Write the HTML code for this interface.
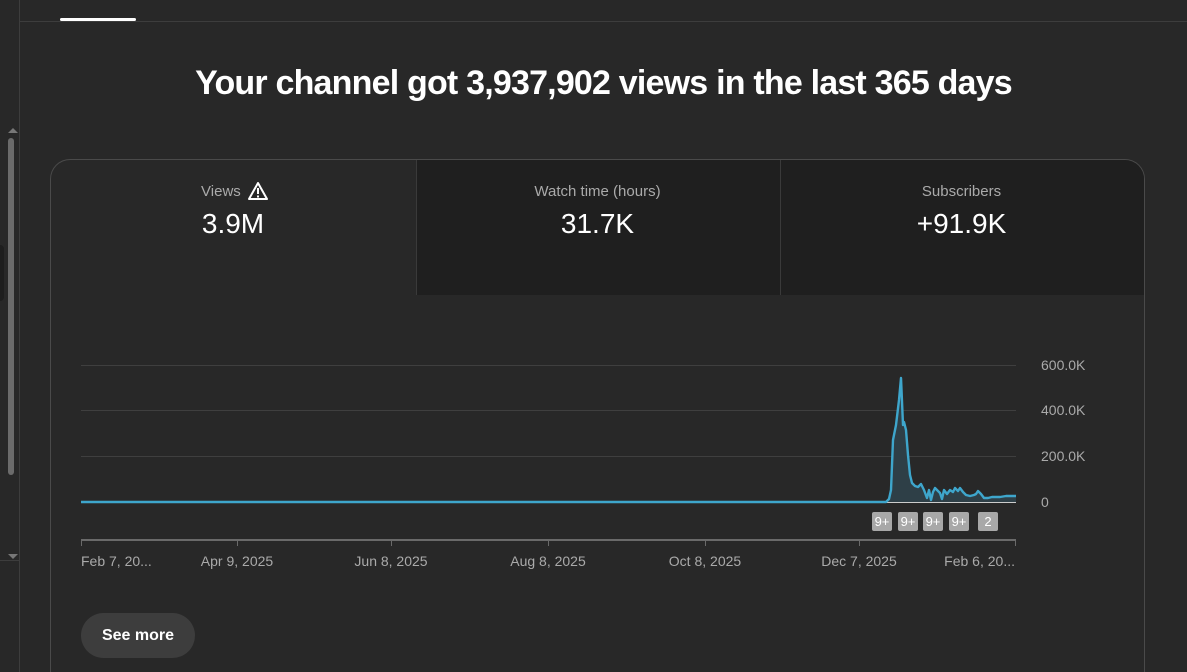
<!DOCTYPE html>
<html style="width:1187px;height:672px;overflow:hidden"><head><style>
body{margin:0;width:1187px;height:672px;background:#282828;overflow:hidden;font-family:"Liberation Sans",sans-serif;position:relative}
.a{position:absolute}
.t{color:#fff;text-align:center}
</style></head><body>
<div class="a" style="left:19px;top:0;width:1px;height:672px;background:#3d3d3d"></div>
<div class="a" style="left:20px;top:21px;width:1167px;height:1px;background:#3d3d3d"></div>
<div class="a" style="left:60px;top:18px;width:76px;height:3px;background:#fff;border-radius:2px"></div>
<div class="a" style="left:8px;top:138px;width:6px;height:337px;background:#6b6b6b;border-radius:3px"></div>
<div class="a" style="left:8px;top:128px;width:0;height:0;border-left:5px solid transparent;border-right:5px solid transparent;border-bottom:5px solid #777"></div>
<div class="a" style="left:8px;top:554px;width:0;height:0;border-left:5px solid transparent;border-right:5px solid transparent;border-top:5px solid #777"></div>
<div class="a" style="left:0;top:245px;width:4px;height:56px;background:#1e1e1e;border-radius:0 4px 4px 0"></div>
<div class="a" style="left:0;top:560px;width:19px;height:1px;background:#3d3d3d"></div>
<div class="a t" style="left:20px;width:1167px;top:64px;font-size:34px;font-weight:bold;letter-spacing:-0.8px">Your channel got 3,937,902 views in the last 365 days</div>
<div class="a" style="left:50px;top:159px;width:1093px;height:530px;border:1px solid #4a4a4a;border-bottom:none;border-radius:20px 20px 0 0;overflow:hidden">
 <div class="a" style="left:365px;top:0;width:364px;height:135px;background:#1f1f1f;border-left:1px solid #3a3a3a"></div>
 <div class="a" style="left:729px;top:0;width:370px;height:135px;background:#1f1f1f;border-left:1px solid #3a3a3a"></div>
</div>
<div class="a t" style="left:51px;width:364px;top:183px;font-size:15px;color:#aaa">Views <span style="display:inline-block;width:20px;"></span></div>
<svg class="a" style="left:247px;top:181px" width="22" height="20"><path d="M11 2 L20 18 L2 18 Z" fill="none" stroke="#fff" stroke-width="2" stroke-linejoin="round"/><rect x="10" y="7" width="2" height="6" fill="#fff"/><rect x="10" y="14.5" width="2" height="2" fill="#fff"/></svg>
<div class="a t" style="left:51px;width:364px;top:208px;font-size:28px">3.9M</div>
<div class="a t" style="left:416px;width:363px;top:183px;font-size:15px;color:#aaa">Watch time (hours)</div>
<div class="a t" style="left:416px;width:363px;top:208px;font-size:28px">31.7K</div>
<div class="a t" style="left:780px;width:363px;top:183px;font-size:15px;color:#aaa">Subscribers</div>
<div class="a t" style="left:780px;width:363px;top:208px;font-size:28px">+91.9K</div>
<svg class="a" style="left:0;top:0" width="1187" height="672">
 <g stroke="#3f3f3f" stroke-width="1"><line x1="81" x2="1016" y1="365.5" y2="365.5"/><line x1="81" x2="1016" y1="410.5" y2="410.5"/><line x1="81" x2="1016" y1="456.5" y2="456.5"/></g>
 <line x1="81" x2="1016" y1="502.5" y2="502.5" stroke="#ccc"/>
 <line x1="81" x2="1016" y1="540" y2="540" stroke="#6a6a6a" stroke-width="2"/>
 <g stroke="#6a6a6a"><line x1="81.5" x2="81.5" y1="540" y2="546"/><line x1="237.5" x2="237.5" y1="540" y2="546"/><line x1="391.5" x2="391.5" y1="540" y2="546"/><line x1="548.5" x2="548.5" y1="540" y2="546"/><line x1="705.5" x2="705.5" y1="540" y2="546"/><line x1="859.5" x2="859.5" y1="540" y2="546"/><line x1="1015.5" x2="1015.5" y1="540" y2="546"/></g>
 <path d="M81 502 L886 502 L889 499 L891 490 L893 440 L896 425 L899 400 L901 378 L903 425 L904 422 L906 430 L908 455 L910 475 L912 483 L915 486 L918 487 L921 484 L924 490 L927 498 L929 490 L931 500 L933 492 L935 488 L937 490 L940 493 L942 499 L944 490 L947 494 L950 490 L953 492 L955 488 L958 491 L960 488 L963 492 L966 495 L970 496 L974 495 L976 494 L978 491 L981 494 L984 498 L988 498 L992 497 L996 497 L1000 497 L1016 497 L1016 502 Z" fill="#2e3f47" stroke="none"/>
 <polyline points="81,502 886,502 889,499 891,490 893,440 896,425 899,400 901,378 903,425 904,422 906,430 908,455 910,475 912,483 915,486 918,487 921,484 924,490 927,498 929,490 931,500 933,492 935,488 937,490 940,493 942,499 944,490 947,494 950,490 953,492 955,488 958,491 960,488 963,492 966,495 970,496 974,495 976,494 978,491 981,494 984,498 988,498 992,497 996,497 1000,497 1006,496 1010,496 1016,496" fill="none" stroke="#3ea6cc" stroke-width="2.4" stroke-linejoin="round"/>
 <g font-size="14" fill="#aaa" font-family="Liberation Sans"><text x="1041" y="370">600.0K</text><text x="1041" y="415">400.0K</text><text x="1041" y="461">200.0K</text><text x="1041" y="507">0</text>
 <text x="81" y="566">Feb 7, 20...</text><text x="237" y="566" text-anchor="middle">Apr 9, 2025</text><text x="391" y="566" text-anchor="middle">Jun 8, 2025</text><text x="548" y="566" text-anchor="middle">Aug 8, 2025</text><text x="705" y="566" text-anchor="middle">Oct 8, 2025</text><text x="859" y="566" text-anchor="middle">Dec 7, 2025</text><text x="1015" y="566" text-anchor="end">Feb 6, 20...</text></g>
 <g fill="#a8a8a8"><rect x="872" y="512" width="20" height="19" rx="2"/><rect x="898" y="512" width="20" height="19" rx="2"/><rect x="923" y="512" width="20" height="19" rx="2"/><rect x="949" y="512" width="20" height="19" rx="2"/><rect x="978" y="512" width="20" height="19" rx="2"/></g>
 <g fill="#fff" font-size="13" font-family="Liberation Sans" text-anchor="middle"><text x="882" y="526">9+</text><text x="908" y="526">9+</text><text x="933" y="526">9+</text><text x="959" y="526">9+</text><text x="988" y="526">2</text></g>
</svg>
<div class="a" style="left:81px;top:613px;width:114px;height:45px;background:#3d3d3d;border-radius:23px;color:#fff;font-size:16px;font-weight:bold;line-height:45px;text-align:center">See more</div>
</body></html>
